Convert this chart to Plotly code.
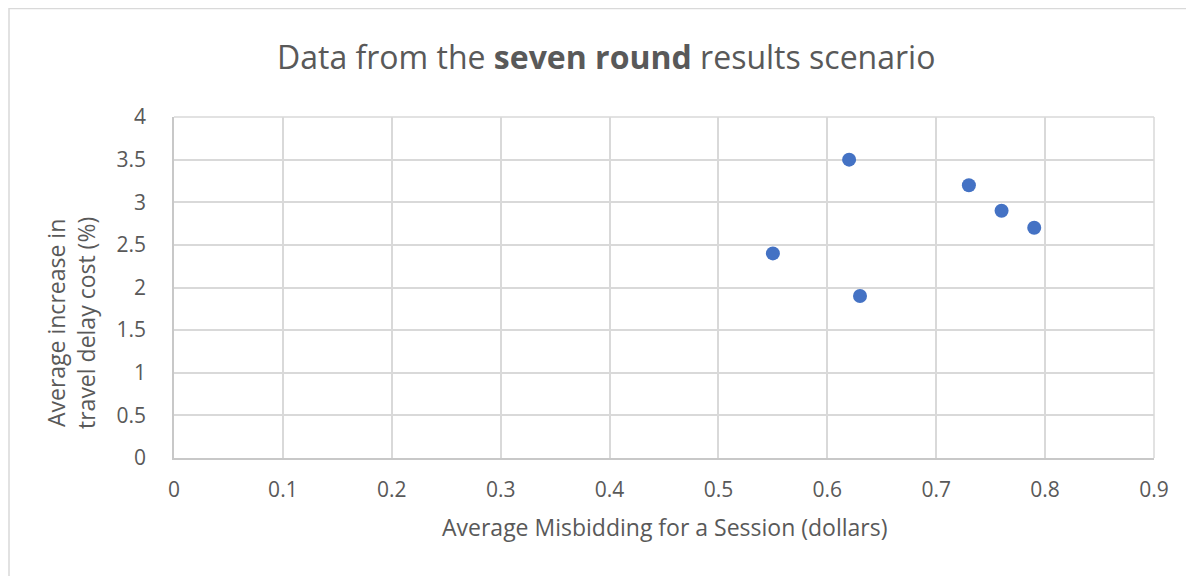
import plotly.graph_objects as go

# average misbidding per session (dollars) vs average increase in travel delay cost (%)
misbidding = [0.55, 0.62, 0.63, 0.73, 0.76, 0.79]
delay_increase = [2.4, 3.5, 1.9, 3.2, 2.9, 2.7]

x_ticks = [0, 0.1, 0.2, 0.3, 0.4, 0.5, 0.6, 0.7, 0.8, 0.9]
y_ticks = [0, 0.5, 1, 1.5, 2, 2.5, 3, 3.5, 4]

font_family = "Open Sans, Noto Sans, sans-serif"
text_color = '#595959'
grid_color = '#d9d9d9'

# page has an 8px body margin, so the figure is 8px smaller than the window
W, H = 1186, 568
L, R, T, B = 166, 40, 109, 118
pw, ph = W - L - R, H - T - B

fig = go.Figure()
fig.add_trace(go.Scatter(
    x=misbidding, y=delay_increase,
    mode='markers',
    marker=dict(color='#4472c4', size=14, line=dict(color='#4472c4', width=0)),
    showlegend=False
))

fig.update_layout(
    width=W, height=H,
    margin=dict(l=L, r=R, t=T, b=B),
    paper_bgcolor='white', plot_bgcolor='white',
    font=dict(family=font_family, color=text_color),
    xaxis=dict(
        range=[0, 0.9], tickvals=x_ticks, ticktext=[str(v) for v in x_ticks],
        showgrid=True, gridcolor=grid_color, gridwidth=1.5,
        showline=True, linecolor='#c8c8c8', linewidth=1.5,
        zeroline=False, ticklabelstandoff=12,
        tickfont=dict(size=21, color=text_color),
    ),
    yaxis=dict(
        range=[0, 4], tickvals=y_ticks, ticktext=[str(v) for v in y_ticks],
        showgrid=True, gridcolor=grid_color, gridwidth=1.5,
        showline=True, linecolor='#c8c8c8', linewidth=1.5,
        zeroline=False, ticklabelstandoff=22,
        tickfont=dict(size=21, color=text_color),
    ),
    annotations=[
        dict(text='Data from the <b>seven round</b> results scenario',
             xref='paper', yref='paper', x=(598 - L) / pw, y=(ph + T - 49) / ph,
             xanchor='center', yanchor='middle', showarrow=False,
             font=dict(size=32, color=text_color)),
        dict(text='Average Misbidding for a Session (dollars)',
             xref='paper', yref='paper', x=0.5, y=-(519 - T - ph) / ph,
             xanchor='center', yanchor='middle', showarrow=False,
             font=dict(size=23, color=text_color)),
        dict(text='Average increase in<br>travel delay cost (%)',
             xref='paper', yref='paper', x=(63 - L) / pw, y=(ph + T - 315) / ph,
             xanchor='center', yanchor='middle', showarrow=False, textangle=-90,
             font=dict(size=23, color=text_color)),
    ],
    shapes=[
        # outer chart border (only left and top fall inside the picture)
        dict(type='rect', xref='paper', yref='paper',
             x0=(1 - L) / pw, x1=1.2, y0=-0.5, y1=(ph + T - 0.5) / ph,
             line=dict(color=grid_color, width=1.5), fillcolor='rgba(0,0,0,0)', layer='below'),
        # top/right plot edges
        dict(type='line', xref='paper', yref='paper', x0=0, x1=1, y0=1, y1=1,
             line=dict(color=grid_color, width=1.5)),
        dict(type='line', xref='paper', yref='paper', x0=1, x1=1, y0=0, y1=1,
             line=dict(color=grid_color, width=1.5)),
    ]
)

fig.write_html("out.html")
